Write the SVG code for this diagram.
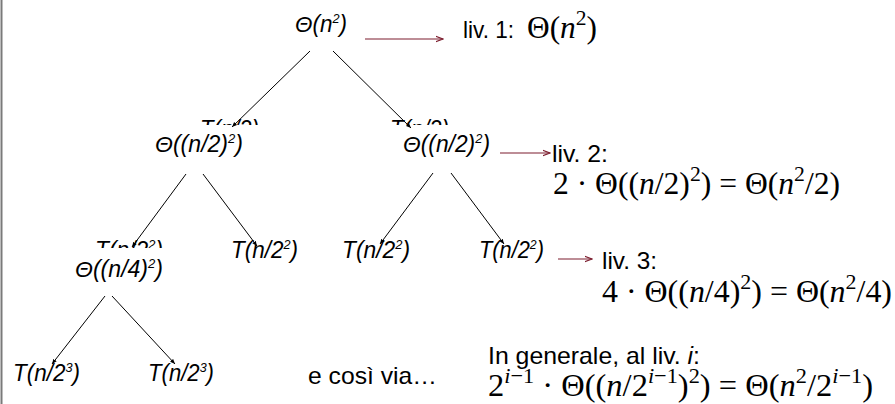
<svg xmlns="http://www.w3.org/2000/svg" width="895" height="404" viewBox="0 0 895 404">
<defs>
<marker id="tip" viewBox="0 0 6 6" refX="6" refY="3" markerWidth="5" markerHeight="5" markerUnits="userSpaceOnUse" orient="auto">
<path d="M0,0.5 L6,3 L0,5.5 z" fill="#000"/>
</marker>
<marker id="red" viewBox="0 0 8 8" refX="7.5" refY="4" markerWidth="8" markerHeight="8" markerUnits="userSpaceOnUse" orient="auto">
<path d="M0,1.2 L7.5,4 L0,6.8" fill="none" stroke="#7c1d2e" stroke-width="1.1"/>
</marker>
<clipPath id="c1"><rect x="0" y="0" width="895" height="125"/></clipPath>
<clipPath id="c2"><rect x="0" y="0" width="895" height="248"/></clipPath>
<style>
.lbl{font-family:"Liberation Sans",Arial,sans-serif;font-style:italic;font-size:23px;fill:#000}
.txt{font-family:"Liberation Sans",Arial,sans-serif;font-size:24px;fill:#000}
.math{font-family:"Liberation Serif","Times New Roman",serif;font-size:32px;fill:#000}
.it{font-style:italic}
.edge{stroke:#000;stroke-width:1;fill:none;marker-end:url(#tip)}
.rarr{stroke:#7c1d2e;stroke-width:1.1;fill:none;marker-end:url(#red)}
</style>
</defs>
<rect x="0" y="0" width="895" height="404" fill="#fff"/>
<line x1="1.5" y1="0" x2="1.5" y2="404" stroke="#7a7a7a" stroke-width="2"/>

<g id="node-l1-T-left" clip-path="url(#c1)"><text class="lbl" x="200" y="137" textLength="59" lengthAdjust="spacingAndGlyphs">T(n/2)</text></g>
<g id="node-l1-T-right" clip-path="url(#c1)"><text class="lbl" x="390" y="137" textLength="59" lengthAdjust="spacingAndGlyphs">T(n/2)</text></g>
<g id="node-l2-T-hidden" clip-path="url(#c2)"><text class="lbl" x="95" y="258" textLength="68" lengthAdjust="spacingAndGlyphs">T(n/2<tspan font-size="13" dy="-9">2</tspan><tspan dy="9">)</tspan></text></g>

<g id="node-root"><text class="lbl" x="295" y="32" textLength="52" lengthAdjust="spacingAndGlyphs">Θ(n<tspan font-size="13" dy="-9">2</tspan><tspan dy="9">)</tspan></text></g>

<g id="node-l1-left"><text class="lbl" x="155" y="152" textLength="88" lengthAdjust="spacingAndGlyphs">Θ((n/2)<tspan font-size="13" dy="-9">2</tspan><tspan dy="9">)</tspan></text></g>
<g id="node-l1-right"><text class="lbl" x="403" y="152" textLength="87" lengthAdjust="spacingAndGlyphs">Θ((n/2)<tspan font-size="13" dy="-9">2</tspan><tspan dy="9">)</tspan></text></g>

<g id="node-l2-a"><text class="lbl" x="75" y="277" textLength="88" lengthAdjust="spacingAndGlyphs">Θ((n/4)<tspan font-size="13" dy="-9">2</tspan><tspan dy="9">)</tspan></text></g>
<g id="node-l2-b"><text class="lbl" x="231" y="258" textLength="67" lengthAdjust="spacingAndGlyphs">T(n/2<tspan font-size="13" dy="-9">2</tspan><tspan dy="9">)</tspan></text></g>
<g id="node-l2-c"><text class="lbl" x="342" y="258" textLength="68" lengthAdjust="spacingAndGlyphs">T(n/2<tspan font-size="13" dy="-9">2</tspan><tspan dy="9">)</tspan></text></g>
<g id="node-l2-d"><text class="lbl" x="479" y="258" textLength="65" lengthAdjust="spacingAndGlyphs">T(n/2<tspan font-size="13" dy="-9">2</tspan><tspan dy="9">)</tspan></text></g>

<g id="node-l3-a"><text class="lbl" x="13" y="381" textLength="67" lengthAdjust="spacingAndGlyphs">T(n/2<tspan font-size="13" dy="-9">3</tspan><tspan dy="9">)</tspan></text></g>
<g id="node-l3-b"><text class="lbl" x="148" y="381" textLength="66" lengthAdjust="spacingAndGlyphs">T(n/2<tspan font-size="13" dy="-9">3</tspan><tspan dy="9">)</tspan></text></g>

<g id="etc"><text class="txt" x="308" y="384" textLength="129" lengthAdjust="spacingAndGlyphs">e così via…</text></g>

<g id="level1">
<text class="txt" x="463" y="38" font-size="22" textLength="51" lengthAdjust="spacingAndGlyphs">liv. 1:</text>
<text class="math" x="527" y="38" textLength="70" lengthAdjust="spacingAndGlyphs">Θ(<tspan class="it">n</tspan><tspan font-size="22" dy="-13">2</tspan><tspan dy="13">)</tspan></text>
</g>
<g id="level2">
<text class="txt" x="552" y="162" textLength="56" lengthAdjust="spacingAndGlyphs">liv. 2:</text>
<text class="math" x="553" y="194" textLength="287" lengthAdjust="spacingAndGlyphs">2 · Θ((<tspan class="it">n</tspan>/2)<tspan font-size="22" dy="-13">2</tspan><tspan dy="13">) = Θ(</tspan><tspan class="it">n</tspan><tspan font-size="22" dy="-13">2</tspan><tspan dy="13">/2)</tspan></text>
</g>
<g id="level3">
<text class="txt" x="602" y="269" textLength="55" lengthAdjust="spacingAndGlyphs">liv. 3:</text>
<text class="math" x="602" y="302" textLength="290" lengthAdjust="spacingAndGlyphs">4 · Θ((<tspan class="it">n</tspan>/4)<tspan font-size="22" dy="-13">2</tspan><tspan dy="13">) = Θ(</tspan><tspan class="it">n</tspan><tspan font-size="22" dy="-13">2</tspan><tspan dy="13">/4)</tspan></text>
</g>
<g id="general">
<text class="txt" x="488" y="364" textLength="212" lengthAdjust="spacingAndGlyphs">In generale, al liv. <tspan class="it">i</tspan>:</text>
<text class="math" x="488" y="396" textLength="385" lengthAdjust="spacingAndGlyphs">2<tspan font-size="22" dy="-13"><tspan class="it">i</tspan>−1</tspan><tspan dy="13"> · Θ((</tspan><tspan class="it">n</tspan>/2<tspan font-size="22" dy="-13"><tspan class="it">i</tspan>−1</tspan><tspan dy="13">)</tspan><tspan font-size="22" dy="-13">2</tspan><tspan dy="13">) = Θ(</tspan><tspan class="it">n</tspan><tspan font-size="22" dy="-13">2</tspan><tspan dy="13">/2</tspan><tspan font-size="22" dy="-13"><tspan class="it">i</tspan>−1</tspan><tspan dy="13">)</tspan></text>
</g>

<g id="connectors">
<line class="edge" x1="310" y1="51" x2="232" y2="127"/>
<line class="edge" x1="333" y1="51" x2="411" y2="128"/>
<line class="edge" x1="186" y1="174" x2="132" y2="247"/>
<line class="edge" x1="203" y1="174" x2="257" y2="246"/>
<line class="edge" x1="433" y1="173" x2="380" y2="244"/>
<line class="edge" x1="451" y1="173" x2="504" y2="244"/>
<line class="edge" x1="105" y1="296" x2="52" y2="364"/>
<line class="edge" x1="112" y1="296" x2="175" y2="364"/>
<line class="rarr" x1="365" y1="39" x2="443" y2="39"/>
<line class="rarr" x1="500" y1="153" x2="550" y2="153"/>
<line class="rarr" x1="558" y1="259" x2="592" y2="259"/>
</g>
</svg>
